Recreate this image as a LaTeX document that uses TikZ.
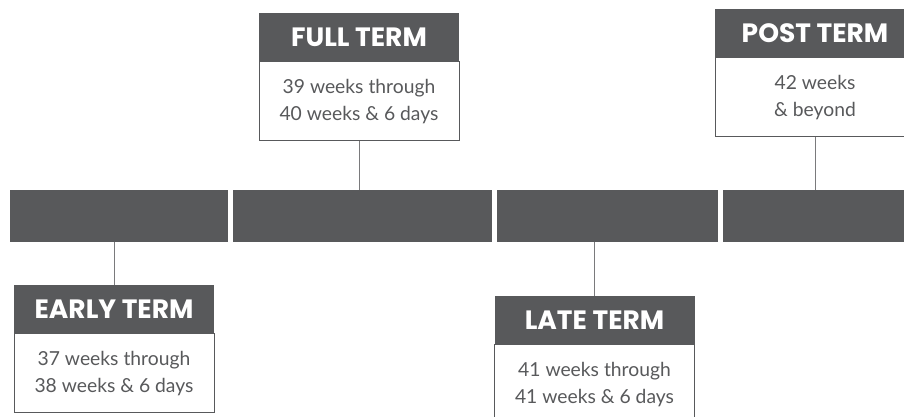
\documentclass[tikz,border=0pt]{standalone}
\usepackage{fontspec}
\setmainfont{Lato}
\newfontfamily\headfont{Poppins}
\definecolor{bargray}{HTML}{58595B}
\definecolor{linegray}{HTML}{7A7A7C}
\newcommand{\term}[6]{\node[head, anchor=north] (#1h) at (#2,#3) {#4}; \node[body, anchor=north] (#1b) at (#1h.south) {#5\\#6};}

\begin{document}
\begin{tikzpicture}[x = 1pt, y = -1pt,
  seg/.style = {fill=bargray, minimum height=52pt, inner sep=0pt},
  head/.style = {fill=bargray, text=white, minimum width=200pt, minimum height=48pt, inner sep=0pt, font=\headfont\bfseries\fontsize{26.5}{26.5}\selectfont},
  body/.style = {draw=bargray, line width=0.8pt, fill=white, text=bargray, minimum width=200pt, minimum height=79pt, inner sep=0pt, align=center, font=\fontsize{19.3}{27}\selectfont},
  tie/.style = {draw=linegray, line width=0.8pt}]
\clip (0,0) rectangle (904,416);
\node[seg, minimum width=218pt] (s1) at (119,216) {};
\node[seg, minimum width=259pt] (s2) at (362.5,216) {};
\node[seg, minimum width=221pt] (s3) at (607.5,216) {};
\node[seg, minimum width=200pt, anchor=west] (s4) at (723,216) {};
\term{early}{114}{285}{EARLY TERM}{37 weeks through}{38 weeks \& 6 days}
\term{full}{359}{13}{FULL TERM}{39 weeks through}{40 weeks \& 6 days}
\term{late}{594.5}{296}{LATE TERM}{41 weeks through}{41 weeks \& 6 days}
\term{post}{815}{9}{POST TERM}{42 weeks}{\& beyond}
\draw[tie] (s1.south -| earlyh.north) -- (earlyh.north);
\draw[tie] (fullb.south) -- (fullb.south |- s2.north);
\draw[tie] (s3.south -| lateh.north) -- (lateh.north);
\draw[tie] (postb.south) -- (postb.south |- s4.north);
\end{tikzpicture}
\end{document}
